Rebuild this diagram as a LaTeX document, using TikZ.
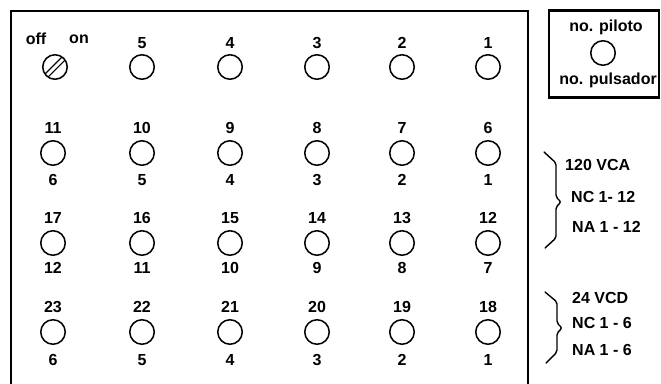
\documentclass[tikz,border=0pt]{standalone}
\usepackage{fontspec}
\setmainfont{Liberation Sans}
\usetikzlibrary{calc}
\begin{document}
\begin{tikzpicture}[x=1pt,y=-1pt,
  lbl/.style={font=\fontsize{16}{18}\selectfont\bfseries, inner sep=0pt},
  txt/.style={font=\fontsize{16}{18}\selectfont\bfseries, inner sep=0pt, anchor=west},
  lamp/.style={circle, draw, line width=1.5pt, minimum size=24.5pt, inner sep=0pt},
  frame/.style={line width=2.2pt},
  bracestyle/.style={line width=1.4pt, rounded corners=2pt, line join=round, line cap=round}]
\useasboundingbox (0,0) rectangle (661,383);
% main panel (open at bottom)
\coordinate (bl) at (11,386);
\coordinate (tl) at (11,11);
\coordinate (tr) at (528,11);
\coordinate (br) at (528,386);
\draw[frame] (bl) -- (tl) -- (tr) -- (br);
% legend box
\node[draw, line width=2.2pt, minimum width=110pt, minimum height=87pt, inner sep=0pt] (legend) at (604,54) {};
\node[lbl] (lp) at (606,27) {no. piloto};
\node[lamp] (lc) at (603,53) {};
\node[lbl] (lq) at (608,80) {no. pulsador};
% switch
\node[lbl] (off) at (36,39) {off};
\node[lbl] (on) at (79,39) {on};
\node[lamp] (sw) at (55,67) {};
\draw[line width=1.2pt] ($(sw.center)+(-6.8,9.9)$) -- ($(sw.center)+(9.9,-6.8)$);
\draw[line width=1.2pt] ($(sw.center)+(-9.9,6.8)$) -- ($(sw.center)+(6.8,-9.9)$);
% row 1
\foreach \n/\x in {5/142,4/230,3/317,2/402,1/488}{
  \node[lamp] (a\n) at (\x,67) {};
  \node[lbl] (la\n) at (\x,43) {\n};
}
% rows 2-4
\foreach \y/\r/\base in {153/b/11,243/c/17,332/d/23}{
  \foreach \i/\x in {0/53,1/142,2/230,3/317,4/402,5/488}{
    \pgfmathtruncatemacro{\top}{\base-\i}
    \node[lamp] (\r\i) at (\x,\y) {};
    \node[lbl] (t\r\i) at (\x,\y-25) {\top};
  }
}
\foreach \i/\x/\v in {0/53/6,1/142/5,2/230/4,3/317/3,4/402/2,5/488/1}{
  \node[lbl] (bb\i) at (\x,180) {\v};
  \node[lbl] (bd\i) at (\x,360) {\v};
}
\foreach \i/\x/\v in {0/53/12,1/142/11,2/230/10,3/317/9,4/402/8,5/488/7}{
  \node[lbl] (bc\i) at (\x,268) {\v};
}
% braces
\draw[bracestyle] (544,152) -- (556,163) -- (556,197) -- (561,202) -- (556,207) -- (556,238) -- (545,248);
\node[txt] (v1) at (565,165) {120 VCA};
\node[txt] (v2) at (571,197) {NC 1- 12};
\node[txt] (v3) at (572,227) {NA 1 - 12};
\draw[bracestyle] (545,292) -- (557,302) -- (557,323) -- (562,328) -- (557,333) -- (557,352) -- (546,363);
\node[txt] (w1) at (572,298) {24 VCD};
\node[txt] (w2) at (572,323) {NC 1 - 6};
\node[txt] (w3) at (572,350) {NA 1 - 6};
\end{tikzpicture}
\end{document}
